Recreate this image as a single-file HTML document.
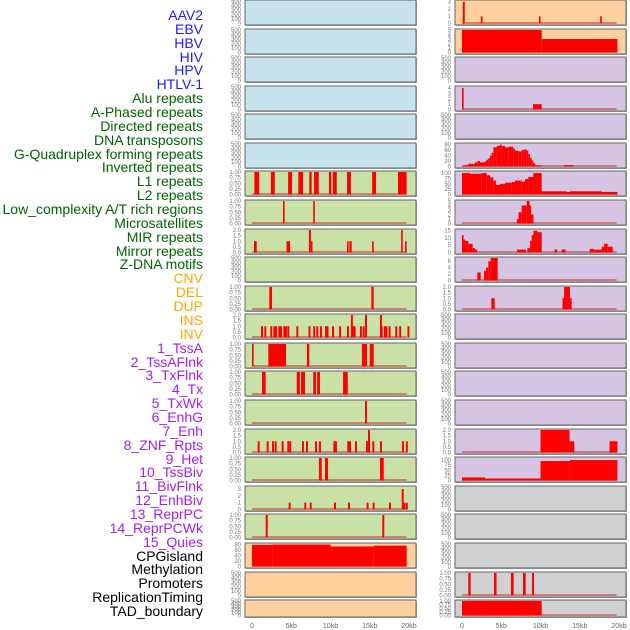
<!DOCTYPE html>
<html><head><meta charset="utf-8"><style>
body{margin:0;background:#fff;width:630px;height:630px;overflow:hidden;font-family:"Liberation Sans",sans-serif}
#labels div{position:absolute;right:427px;font-size:14px;line-height:14px;white-space:nowrap}
</style></head><body>
<div id="labels"></div>
<svg id="chart" width="630" height="630" style="position:absolute;left:0;top:0"></svg>
<script>
// ---- labels ----
const labelNames = ["AAV2","EBV","HBV","HIV","HPV","HTLV-1","Alu repeats","A-Phased repeats","Directed repeats","DNA transposons","G-Quadruplex forming repeats","Inverted repeats","L1 repeats","L2 repeats","Low_complexity A/T rich regions","Microsatellites","MIR repeats","Mirror repeats","Z-DNA motifs","CNV","DEL","DUP","INS","INV","1_TssA","2_TssAFlnk","3_TxFlnk","4_Tx","5_TxWk","6_EnhG","7_Enh","8_ZNF_Rpts","9_Het","10_TssBiv","11_BivFlnk","12_EnhBiv","13_ReprPC","14_ReprPCWk","15_Quies","CPGisland","Methylation","Promoters","ReplicationTiming","TAD_boundary"];
const labelColors = ["#1a1aff","#006400","#ffa500","#a020f0","#000"];
const labelGroupEnds = [6,19,24,39,44];
const xTickLabels = ["0","5kb","10kb","15kb","20kb"];
const xTickValues = [0,5,10,15,20];

// ---- data: [startKb, endKb, value] ----
const L_L1 = [[0.3,0.9,1],[2.4,2.9,1],[4.6,5.1,1],[5.9,6.5,1],[7.3,7.6,1],[7.9,8.5,1],[9.8,10.1,1],[10.3,10.8,1],[12.1,12.6,1],[15.3,15.8,1],[18.6,19.7,1]];
const L_r8 = [[3.95,4.15,1],[7.8,8.0,1]];
const L_r9 = [[0.25,0.6,1],[4.4,4.85,1],[7.25,7.5,2],[7.5,7.7,1],[12.1,12.3,1],[12.4,12.7,1],[15.3,15.5,1],[19.0,19.2,2],[19.5,19.7,1]];
const L_r11 = [[2.2,2.55,1],[15.2,15.5,1]];
const L_r12pos = [1.15,1.57,2.33,2.72,2.93,3.35,3.57,3.99,4.2,4.5,5.65,7.2,7.8,8.2,8.66,9.3,9.5,10.2,11.1,12.1,12.6,12.8,12.95,13.75,14.1,14.4,16.3,16.4,16.8,17.0,17.4,18.25,18.75,19.8];
const L_r12val = [1,1,1,1,1,1,1,1,1,1,1,1,1,1,1,1,1,1,1,1,2,1,1,1,1,2,2,1,1,1,1,1,1,1];
const L_TssA = [[0,0.2,1],[2.08,4.33,1],[7.0,7.3,1],[14.0,14.65,1],[15.0,15.5,1]];
const L_r14 = [[1.27,1.74,1],[5.7,6.1,1],[6.25,6.75,1],[7.8,8.15,1],[8.3,8.66,1],[11.6,12.2,1]];
const L_r15 = [[14.4,14.65,1]];
const L_r16pos = [0.72,1.87,2.55,2.89,3.78,4.5,4.75,6.37,6.88,8.03,8.53,10.36,10.57,12.14,12.36,13.12,14.52,14.78,15.33,16.3,19.1,19.6];
const L_r16val = [1,1,1,1,1,1,1,1,1,1,1,1,1,1,1,1,1,2,1,1,1,1];
const L_r17 = [[8.53,8.88,1],[9.3,9.68,1],[16.3,16.78,1]];
const L_r18pos = [4.67,6.67,7.35,10.45,12.23,14.6,15.37,17.45,19.07,19.28,19.6];
const L_r18val = [1,1,1,1,1,1,1,1,3,1,1];
const L_r19 = [[1.74,2.0,1],[16.6,16.85,1]];
const L_CpG = [[0,2.6,79],[2.6,10,80],[10,15.5,73],[15.5,19.7,76]];
const R_r1 = [[0.1,0.35,3],[2.4,2.6,1],[9.8,10.0,1],[17.6,17.8,1]];
const R_r2 = [[0,10.15,5],[10.15,19.8,3]];
const R_r4 = [[0,0.2,4],[9.05,10.15,1]];
const R_r6 = [[0,0.38,3],[0.38,0.8,5],[0.8,1.44,10],[1.44,1.66,10],[1.66,1.95,15],[1.95,2.29,20],[2.29,2.93,15],[2.93,3.14,20],[3.14,3.35,25],[3.35,3.57,30],[3.57,3.78,40],[3.78,4.0,50],[4.0,4.42,70],[4.42,4.84,75],[4.84,5.05,80],[5.05,5.48,75],[5.48,5.9,70],[5.9,6.54,72],[6.54,6.75,65],[6.75,7.17,58],[7.17,7.6,55],[7.6,7.8,60],[7.8,8.24,62],[8.24,8.45,58],[8.45,8.66,45],[8.66,8.87,32],[8.87,9.09,22],[9.09,9.3,12],[9.3,9.5,6],[9.5,10.15,4],[12.99,14.2,5]];
const R_r7 = [[0,1.02,100],[1.02,2.5,97],[2.5,3.14,100],[3.14,3.57,90],[3.57,4.0,80],[4.0,4.33,65],[4.33,4.84,45],[4.84,5.48,50],[5.48,6.33,55],[6.33,6.75,58],[6.75,7.6,65],[7.6,8.03,60],[8.03,8.45,72],[8.45,9.09,82],[9.09,10.15,100],[10.15,13.33,15],[13.33,13.75,12],[13.75,17.79,15],[17.79,19.8,12]];
const R_r8 = [[7.0,7.2,1],[7.2,7.6,2.5],[7.6,8.24,4],[8.24,8.6,5],[8.6,8.8,4],[8.8,9.1,2]];
const R_r9 = [[0,0.17,12],[0.17,0.38,9],[0.38,0.8,8],[0.8,1.35,6],[1.35,1.66,3],[1.66,1.95,2],[7.0,8.15,2],[8.33,8.66,3],[8.66,8.87,8],[8.87,9.1,12],[9.1,9.6,15],[9.6,10.15,14],[11.77,12.14,2],[12.7,13.2,2],[16.27,16.8,2.5],[16.8,17.8,2],[17.8,18.1,4],[18.1,18.56,6],[18.56,19.2,4]];
const R_r10 = [[1.95,2.38,2.5],[2.8,3.06,3],[3.06,3.35,4],[3.35,3.65,6],[3.65,4.54,7]];
const R_r11 = [[3.74,4.16,1],[12.8,13.0,1],[13.0,13.75,2],[13.75,13.97,1]];
const R_r16 = [[10.0,13.7,2],[13.7,14.3,1],[18.8,19.8,1]];
const R_r17 = [[0,2.93,15],[2.93,10.0,10],[10.0,13.75,95],[13.75,19.8,100]];
const R_r21 = [[0.8,1.1,1],[4.08,4.4,1],[6.24,6.58,1],[7.77,8.11,1],[8.92,9.17,1]];
const R_r22 = [[0,10.15,1]];

function spikes(pos, val){ return pos.map((p,i)=>[p, p+0.25, val[i]]); }

// ---- layout ----
const rowTops = [0,29,57,86,114,143,171,200,229,257,286,314,343,371,400,429,457,486,514,543,572,600];
const BLUE="#c7e3eb", GREEN="#c9e1a6", ORANGE="#fed09e", PURPLE="#d5c5e2", GRAY="#d0d0d0";
const E = {max:500,ticks:[0,100,200,300,400,500],dec:0};
const B = {max:1,ticks:[0,0.25,0.5,0.75,1],dec:2};
const T = {max:2,ticks:[0,0.5,1,1.5,2],dec:1};
function S(max,ticks){return {max,ticks,dec:0};}
const leftPanels = [
 [BLUE,E,null],[BLUE,E,null],[BLUE,E,null],[BLUE,E,null],[BLUE,E,null],[BLUE,E,null],
 [GREEN,B,L_L1],[GREEN,B,L_r8],[GREEN,T,L_r9],[GREEN,E,null],[GREEN,B,L_r11],
 [GREEN,T,spikes(L_r12pos,L_r12val)],[GREEN,B,L_TssA],[GREEN,B,L_r14],[GREEN,B,L_r15],
 [GREEN,T,spikes(L_r16pos,L_r16val)],[GREEN,B,L_r17],[GREEN,S(3.3,[0,1,2,3]),spikes(L_r18pos,L_r18val)],
 [GREEN,B,L_r19],[ORANGE,S(82,[0,20,40,60,80]),L_CpG],[ORANGE,E,null],[ORANGE,E,null]];
const rightPanels = [
 [ORANGE,S(3.1,[0,1,2,3]),R_r1],[ORANGE,S(5,[0,1,2,3,4,5]),R_r2],[PURPLE,E,null],[PURPLE,S(4.2,[0,1,2,3,4]),R_r4],
 [PURPLE,E,null],[PURPLE,S(82,[0,20,40,60,80]),R_r6],[PURPLE,S(105,[0,25,50,75,100]),R_r7],
 [PURPLE,S(5,[0,1,2,3,4,5]),R_r8],[PURPLE,S(15.5,[0,5,10,15]),R_r9],[PURPLE,S(7,[0,2,4,6]),R_r10],
 [PURPLE,T,R_r11],[PURPLE,E,null],[PURPLE,E,null],[PURPLE,E,null],[PURPLE,E,null],
 [PURPLE,T,R_r16],[PURPLE,S(110,[0,25,50,75,100]),R_r17],[GRAY,E,null],[GRAY,E,null],[GRAY,E,null],
 [GRAY,B,R_r21],[GRAY,B,R_r22]];

const NS="http://www.w3.org/2000/svg";
const svg=document.getElementById('chart');
function mk(tag,attrs,parent){const e=document.createElementNS(NS,tag);for(const k in attrs)e.setAttribute(k,attrs[k]);(parent||svg).appendChild(e);return e;}

// labels
const lab=document.getElementById('labels');
labelNames.forEach((n,i)=>{
  const d=document.createElement('div');
  
  
  let g=0; while(i>=labelGroupEnds[g]) g++;
  d.style.color=labelColors[g];
  d.style.top=(15+i*13.86-7)+'px';
  d.textContent=n;
  lab.appendChild(d);
});

function drawCol(panels,x0,x1,d0,d20,side){
  const xs=v=>d0+(d20-d0)*v/20;
  panels.forEach((p,r)=>{
    const top=rowTops[r], h=(r===rowTops.length-1)?17:25;
    const g=mk('g',{});
    
    
    mk('rect',{x:x0+1,y:top+1,width:x1-x0,height:h,fill:'#aaa'},g);
    mk('rect',{x:x0,y:top,width:x1-x0,height:h,fill:p[0],stroke:'#666','stroke-width':1},g);
    const sc=p[1], bot=top+h-1.5, ph=h-2.5;
    const ys=v=>bot-v/sc.max*ph;
    sc.ticks.forEach(t=>{
      const tx=mk('text',{x:x0-4,y:ys(t)+2,'font-size':6,fill:'#777','text-anchor':'end'},g);
      
      
      tx.textContent=t.toFixed(sc.dec);
    });
    if(p[2]){
      mk('line',{x1:xs(0),x2:xs(19.7),y1:bot-0.5,y2:bot-0.5,stroke:'#c33','stroke-width':1.5,opacity:0.7},g);
      p[2].forEach(s=>{
        const bx=xs(s[0]), bw=Math.max(1.6,xs(s[1])-xs(s[0]));
        const b=mk('rect',{x:bx,y:ys(s[2]),width:bw,height:bot-ys(s[2]),fill:'#ff0000'},g);
        
        
      });
    }
  });
  xTickValues.forEach((v,i)=>{
    const t=mk('text',{x:xs(v),y:628,'font-size':7,fill:'#666','text-anchor':'middle'});
    
    
    t.textContent=xTickLabels[i];
  });
}
drawCol(leftPanels,245,416,252,409,'left');
drawCol(rightPanels,455,626,462,619,'right');
</script>
</body></html>
